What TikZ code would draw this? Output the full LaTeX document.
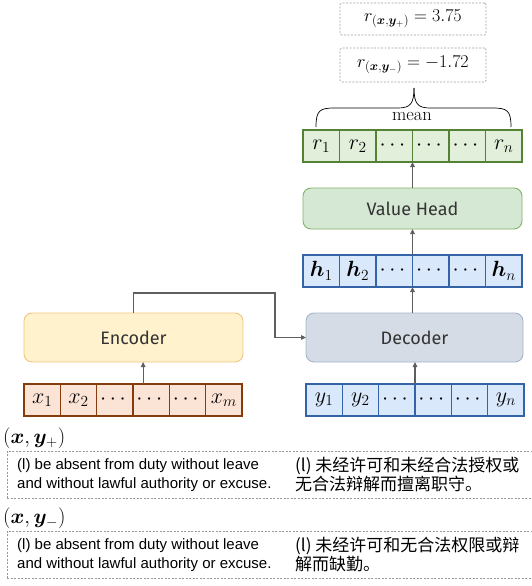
\RequirePackage{fix-cm}
\documentclass[tikz,border=0pt]{standalone}
\usepackage{fontspec}
\usepackage{amsmath,bm}
\usetikzlibrary{arrows.meta}
\newfontfamily\boxfont{Fira Sans}
\newfontfamily\enfont{Liberation Sans}
\newfontfamily\cjkfont{Noto Sans CJK SC}

\definecolor{rfill}{HTML}{E2EFDA}
\definecolor{rdraw}{HTML}{548235}
\definecolor{vhfill}{HTML}{D5E8D4}
\definecolor{vhdraw}{HTML}{82B366}
\definecolor{hfill}{HTML}{DAE8FC}
\definecolor{hdraw}{HTML}{3563A8}
\definecolor{decfill}{HTML}{D6DCE6}
\definecolor{decdraw}{HTML}{A3B3CB}
\definecolor{encfill}{HTML}{FFF2CC}
\definecolor{encdraw}{HTML}{F2C47F}
\definecolor{xfill}{HTML}{FBE4D6}
\definecolor{xdraw}{HTML}{843C0C}
\definecolor{arrowgray}{HTML}{5F5F5F}
\definecolor{boxtext}{HTML}{333333}

\tikzset{
  cell/.style={draw, line width=1.6pt, minimum width=36.5pt, minimum height=32pt,
    inner sep=0pt, outer sep=0pt, font=\fontsize{22}{26}\selectfont},
  rcell/.style={cell, draw=rdraw, fill=rfill},
  hcell/.style={cell, draw=hdraw, fill=hfill},
  xcell/.style={cell, draw=xdraw, fill=xfill, minimum width=36.33pt},
  ycell/.style={cell, draw=hdraw, fill=hfill, minimum width=36.33pt},
  block/.style={draw, line width=0.9pt, rounded corners=8pt, inner sep=0pt, outer sep=0pt,
    text=boxtext, font=\boxfont\fontsize{18}{22}\selectfont},
  arr/.style={draw=arrowgray, line width=1.2pt, -{Triangle[length=5pt,width=4.5pt]}},
  scorebox/.style={draw=gray!75, dash pattern=on 2pt off 1.5pt, line width=0.7pt,
    rounded corners=1.5pt, inner sep=0pt, minimum width=146pt, font=\fontsize{18}{22}\selectfont},
  pairbox/.style={draw=gray!80, dash pattern=on 2pt off 1.5pt, line width=0.6pt,
    inner sep=0pt, outer sep=0pt, minimum width=535pt, minimum height=47pt, anchor=north west},
  entext/.style={anchor=west, align=left, inner sep=0pt, font=\enfont\fontsize{15}{19}\selectfont},
  zhtext/.style={anchor=west, align=left, inner sep=0pt, font=\cjkfont\fontsize{17}{19}\selectfont},
  pairlabel/.style={anchor=west, inner sep=0pt, font=\fontsize{21}{25}\selectfont},
}

\begin{document}
\begin{tikzpicture}[x=1pt, y=-1pt]
\useasboundingbox (0,0) rectangle (532,586);

% scores
\node[scorebox, minimum height=32pt] (rpos) at (413,19) {$r_{(\bm{x},\bm{y}_+)}=3.75$};
\node[scorebox, minimum height=34pt] (rneg) at (413,65) {$r_{(\bm{x},\bm{y}_-)}=-1.72$};

% brace over the reward row
\draw[line width=0.7pt] (316,127) .. controls (316,110) and (320,108) .. (335,108)
  -- (398,108) .. controls (410,108) and (414,104) .. (414,88);
\draw[line width=0.7pt] (511,127) .. controls (511,110) and (507,108) .. (492,108)
  -- (430,108) .. controls (418,108) and (414,104) .. (414,88);
\node[font=\fontsize{18.5}{21}\selectfont, inner sep=0pt] (mean) at (412,116) {mean};

% reward row
\foreach \lab [count=\i from 0] in {r_1,r_2,\cdots,\cdots,\cdots,r_n}
  \node[rcell] (r\i) at ({303+18.25+\i*36.5},146) {$\lab$};

% value head
\node[block, fill=vhfill, draw=vhdraw, minimum width=219pt, minimum height=41pt] (vh) at (412.5,208.5) {Value Head};

% hidden states
\foreach \lab [count=\i from 0] in {\bm{h}_1,\bm{h}_2,\cdots,\cdots,\cdots,\bm{h}_n}
  \node[hcell] (h\i) at ({303+18.25+\i*36.5},271) {$\lab$};

% encoder / decoder
\node[block, fill=encfill, draw=encdraw, minimum width=219pt, minimum height=49pt] (enc) at (133.5,337.5) {Encoder};
\node[block, fill=decfill, draw=decdraw, minimum width=217pt, minimum height=49pt] (dec) at (414.5,337.5) {Decoder};

% input tokens
\foreach \lab [count=\i from 0] in {x_1,x_2,\cdots,\cdots,\cdots,x_m}
  \node[xcell] (x\i) at ({24+18.17+\i*36.33},400) {$\lab$};
\foreach \lab [count=\i from 0] in {y_1,y_2,\cdots,\cdots,\cdots,y_n}
  \node[ycell] (y\i) at ({306+18.17+\i*36.33},400) {$\lab$};

% connectors
\draw[arr] ([xshift=-8pt]x3.north) -- ([xshift=-8pt]x3.north |- enc.south);
\draw[arr] (y2.north east) -- (y2.north east |- dec.south);
\coordinate (bend) at (275,293);
\draw[arr] (enc.north) |- (bend) |- (dec.west);
\draw[arr] (dec.north -| h2.south east) -- (h2.south east);
\draw[arr] (h2.north east) -- (h2.north east |- vh.south);
\draw[arr] (vh.north -| r2.south east) -- (r2.south east);

% preference pairs
\node[pairlabel] (lpos) at (3,438) {$(\bm{x},\bm{y}_+)$};
\node[pairbox] (ppos) at (7,451) {};
\node[entext] (enpos) at (17,475) {(l) be absent from duty without leave\\and without lawful authority or excuse.};
\node[zhtext] (zhpos) at (295,475) {(l) 未经许可和未经合法授权或\\无合法辩解而擅离职守。};

\node[pairlabel] (lneg) at (3,518) {$(\bm{x},\bm{y}_-)$};
\node[pairbox] (pneg) at (7,531) {};
\node[entext] (enneg) at (17,555) {(l) be absent from duty without leave\\and without lawful authority or excuse.};
\node[zhtext] (zhneg) at (295,555) {(l) 未经许可和无合法权限或辩\\解而缺勤。};
\end{tikzpicture}
\end{document}
